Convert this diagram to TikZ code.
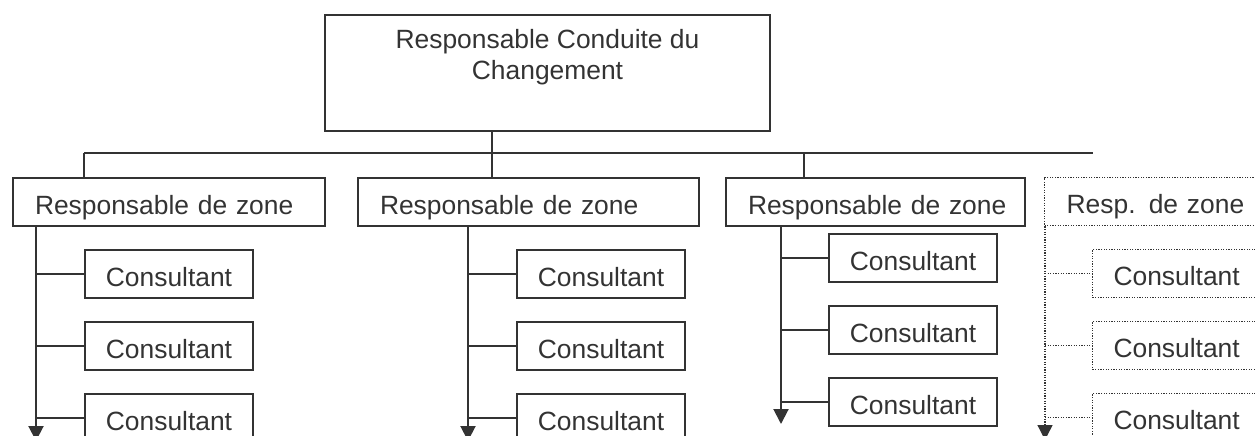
\documentclass[tikz,border=0pt]{standalone}
\usepackage{fontspec}
\setmainfont{Liberation Sans}
\usetikzlibrary{arrows.meta}
\begin{document}
\begin{tikzpicture}[x=1pt,y=-1pt,
  font=\fontsize{26.4}{31}\selectfont,
  ln/.style={draw=black!80, line width=2pt},
  dotln/.style={draw=black!80, line width=1.3pt, dash pattern=on 1.2pt off 1.4pt},
  arrowend/.style={-{Triangle[width=15pt,length=15pt]}},
  boxbase/.style={line width=2pt, inner sep=0pt, anchor=north west,
    minimum height=48pt, text height=26pt, text depth=2pt, text=black!80},
  zonebox/.style={boxbase, draw=black!80, align=left,
    execute at begin node={\noindent\hspace*{22pt}}},
  dotzonebox/.style={zonebox, dotln},
  consbox/.style={boxbase, draw=black!80, minimum width=168pt},
  dotconsbox/.style={consbox, dotln},
  topbox/.style={draw=black!80, line width=2pt, inner sep=0pt, anchor=north west, text=black!80}
]
\useasboundingbox (0,0) rectangle (1255,436);
\clip (0,0) rectangle (1255,436);

% top box
\node[topbox] (top) at (324,14)
  {\parbox[c][116pt][t]{445pt}{\centering\vspace*{14pt}Responsable Conduite du\\Changement}};

% zone boxes
\node[zonebox, text width=312pt] (r1) at (12,177) {Responsable de zone};
\node[zonebox, text width=341pt] (r2) at (357,177) {Responsable de zone};
\node[zonebox, text width=299pt] (r3) at (725,177) {Responsable de zone};
\node[dotzonebox, text width=217pt] (r4) at (1044,177) {Resp. de zone};

% consultants
\node[consbox] (c11) at (84,249) {Consultant};
\node[consbox] (c12) at (84,321) {Consultant};
\node[consbox] (c13) at (84,393) {Consultant};
\node[consbox] (c21) at (516,249) {Consultant};
\node[consbox] (c22) at (516,321) {Consultant};
\node[consbox] (c23) at (516,393) {Consultant};
\node[consbox] (c31) at (828,233) {Consultant};
\node[consbox] (c32) at (828,305) {Consultant};
\node[consbox] (c33) at (828,377) {Consultant};
\node[dotconsbox] (c41) at (1092,249) {Consultant};
\node[dotconsbox] (c42) at (1092,321) {Consultant};
\node[dotconsbox] (c43) at (1092,393) {Consultant};

% bus
\coordinate (bus1) at (84,153);
\coordinate (bus2) at (492,153);
\coordinate (bus3) at (804,153);
\coordinate (busend) at (1093,153);
\draw[ln] (top.south -| bus2) -- (r2.north -| bus2);
\draw[ln] (bus1) -- (busend);
\draw[ln] (bus1) -- (r1.north -| bus1);
\draw[ln] (bus3) -- (r3.north -| bus3);

% column spines
\coordinate (e1) at (36,441);
\coordinate (e2) at (468,441);
\coordinate (e3) at (781,424);
\coordinate (e4) at (1045,440);
\draw[ln, arrowend] (r1.south -| e1) -- (e1);
\draw[ln, arrowend] (r2.south -| e2) -- (e2);
\draw[ln, arrowend] (r3.south -| e3) -- (e3);
\draw[dotln, arrowend] (r4.south -| e4) -- (e4);

% ties
\foreach \k in {1,2,3} {
  \draw[ln] (c1\k.west -| e1) -- (c1\k.west);
  \draw[ln] (c2\k.west -| e2) -- (c2\k.west);
  \draw[ln] (c3\k.west -| e3) -- (c3\k.west);
  \draw[dotln] (c4\k.west -| e4) -- (c4\k.west);
}
\end{tikzpicture}
\end{document}
